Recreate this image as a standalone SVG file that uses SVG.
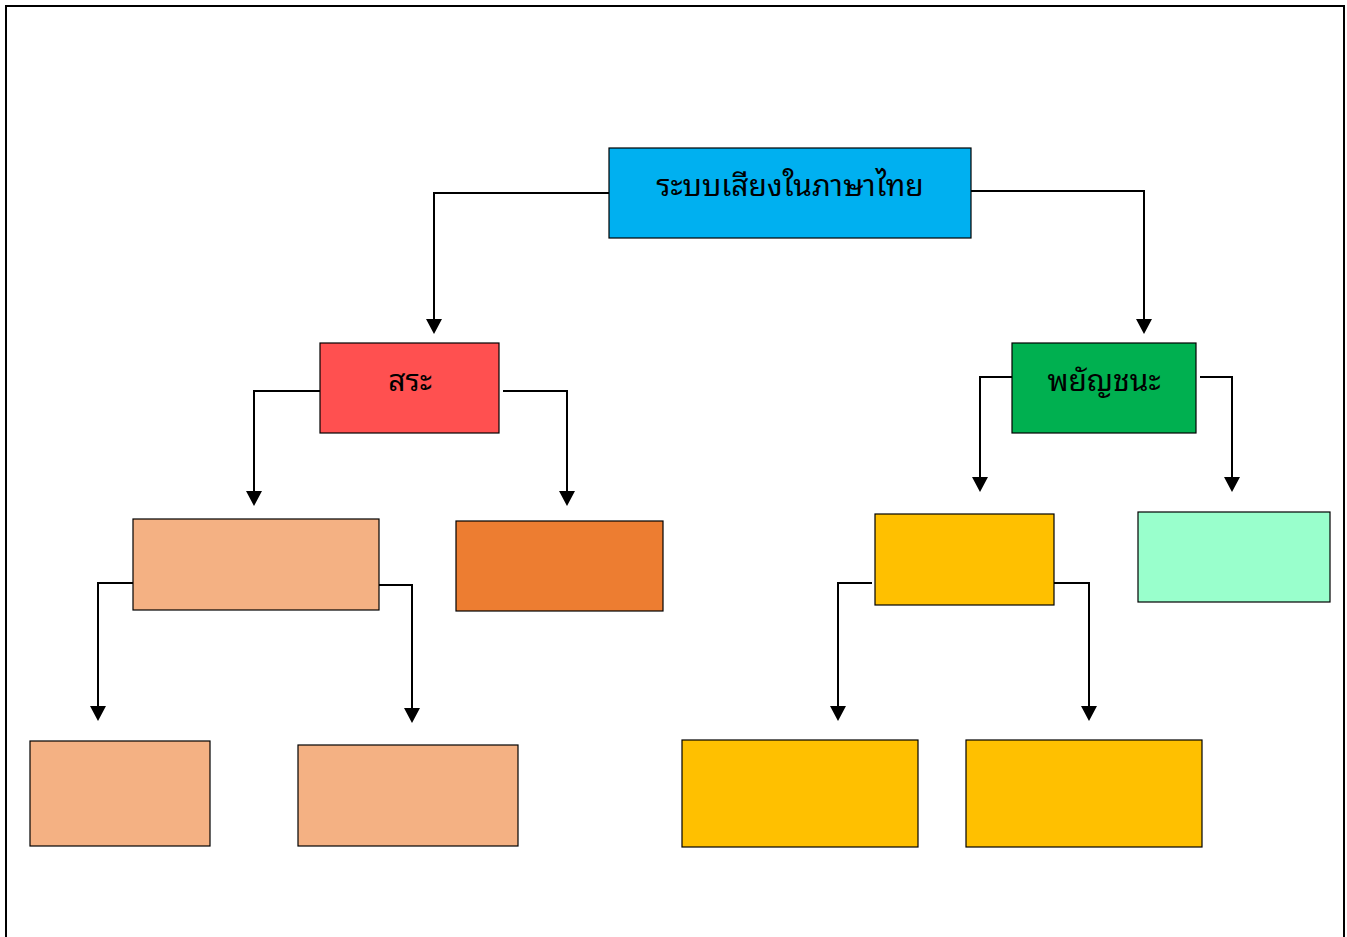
<svg xmlns="http://www.w3.org/2000/svg" width="1347" height="937" viewBox="0 0 1347 937">
<defs>
<style>
.node{stroke:#000;stroke-width:1.2}
.lbl{font-family:"Noto Sans Thai Looped","Loma","Garuda","Noto Sans Thai","Noto Sans","DejaVu Sans",sans-serif;font-size:30px;font-weight:400;fill:#000;text-anchor:middle}
.conn{fill:none;stroke:#000;stroke-width:2}
</style>
</defs>
<rect x="0" y="0" width="1347" height="937" fill="#fff"/>
<rect x="6" y="6" width="1338" height="960" fill="none" stroke="#000" stroke-width="2"/>
<g id="connectors">
<path class="conn" d="M609,193 H434 V319"/>
<path d="M426,319 L442,319 L434,334 Z"/>
<path class="conn" d="M971,191 H1144 V319"/>
<path d="M1136,319 L1152,319 L1144,334 Z"/>
<path class="conn" d="M320,391 H254 V491"/>
<path d="M246,491 L262,491 L254,506 Z"/>
<path class="conn" d="M503,391 H567 V491"/>
<path d="M559,491 L575,491 L567,506 Z"/>
<path class="conn" d="M1012,377 H980 V477"/>
<path d="M972,477 L988,477 L980,492 Z"/>
<path class="conn" d="M1200,377 H1232 V477"/>
<path d="M1224,477 L1240,477 L1232,492 Z"/>
<path class="conn" d="M133,583 H98 V706"/>
<path d="M90,706 L106,706 L98,721 Z"/>
<path class="conn" d="M379,585 H412 V708"/>
<path d="M404,708 L420,708 L412,723 Z"/>
<path class="conn" d="M872,583 H838 V706"/>
<path d="M830,706 L846,706 L838,721 Z"/>
<path class="conn" d="M1054,583 H1089 V706"/>
<path d="M1081,706 L1097,706 L1089,721 Z"/>
</g>
<g id="root">
<rect class="node" x="609" y="148" width="362" height="90" fill="#00B0F0"/>
<text class="lbl" x="790" y="196">ระบบเสียงในภาษาไทย</text>
</g>
<g id="sara">
<rect class="node" x="320" y="343" width="179" height="90" fill="#FF5050"/>
<text class="lbl" x="410" y="391">สระ</text>
</g>
<g id="phayanchana">
<rect class="node" x="1012" y="343" width="184" height="90" fill="#00B050"/>
<text class="lbl" x="1104" y="391">พยัญชนะ</text>
</g>
<g id="sara-a">
<rect class="node" x="133" y="519" width="246" height="91" fill="#F4B183"/>
</g>
<g id="sara-b">
<rect class="node" x="456" y="521" width="207" height="90" fill="#ED7D31"/>
</g>
<g id="cons-a">
<rect class="node" x="875" y="514" width="179" height="91" fill="#FFC000"/>
</g>
<g id="cons-b">
<rect class="node" x="1138" y="512" width="192" height="90" fill="#99FFCC"/>
</g>
<g id="sara-a1">
<rect class="node" x="30" y="741" width="180" height="105" fill="#F4B183"/>
</g>
<g id="sara-a2">
<rect class="node" x="298" y="745" width="220" height="101" fill="#F4B183"/>
</g>
<g id="cons-a1">
<rect class="node" x="682" y="740" width="236" height="107" fill="#FFC000"/>
</g>
<g id="cons-a2">
<rect class="node" x="966" y="740" width="236" height="107" fill="#FFC000"/>
</g>
</svg>
